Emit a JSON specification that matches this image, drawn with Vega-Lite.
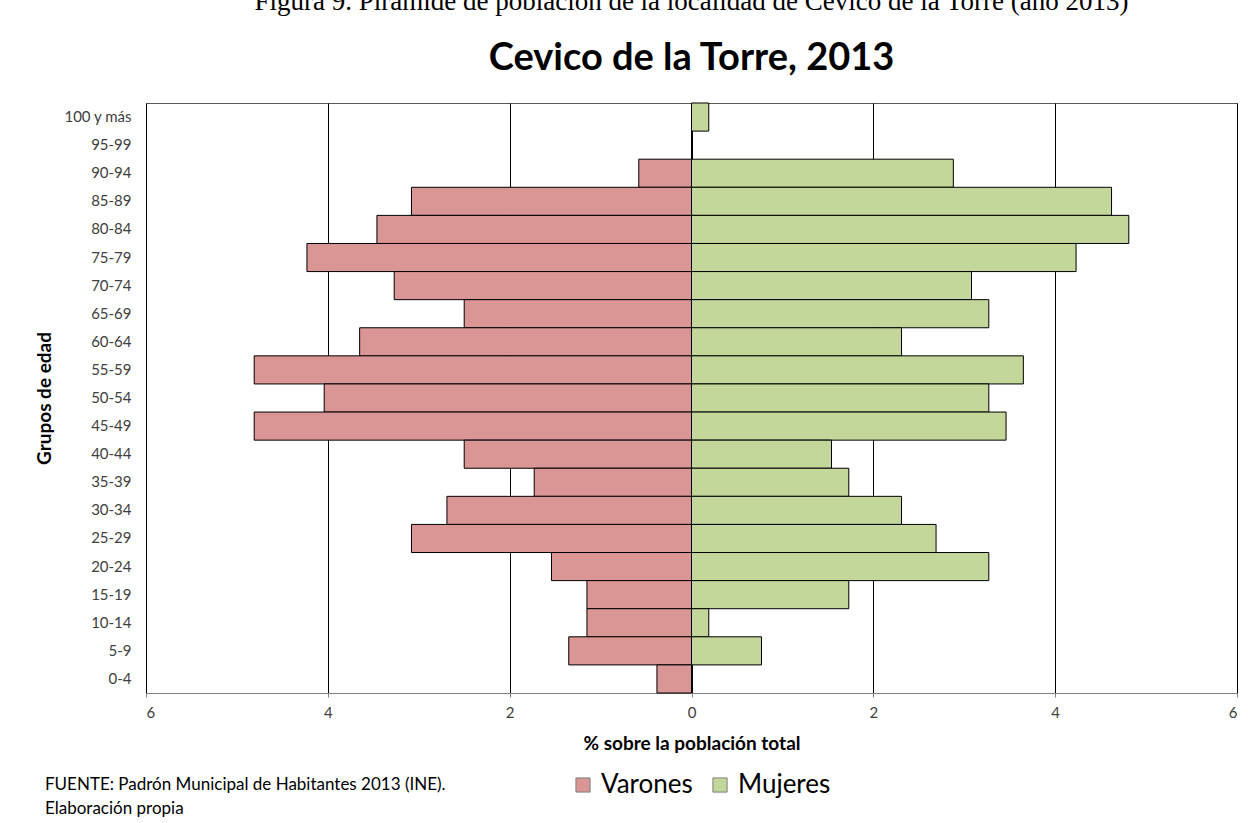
{
  "$schema": "https://vega.github.io/schema/vega-lite/v6.json",
  "autosize": "none",
  "width": 1091,
  "height": 590,
  "padding": {"left": 146, "top": 103, "right": 11, "bottom": 130},
  "background": "white",
  "title": {
    "text": "Figura 9. Pirámide de población de la localidad de Cevico de la Torre (año 2013)",
    "subtitle": "Cevico de la Torre, 2013",
    "anchor": "middle",
    "font": "Liberation Serif",
    "fontSize": 27,
    "fontWeight": "normal",
    "color": "black",
    "subtitleFont": "Lato",
    "subtitleFontSize": 38,
    "subtitleFontWeight": "bold",
    "subtitleColor": "black",
    "subtitlePadding": 24,
    "offset": 24
  },
  "data": {
    "values": [
      {"edad": "100 y más", "sexo": "Varones", "valor": 0},
      {"edad": "100 y más", "sexo": "Mujeres", "valor": 0.19},
      {"edad": "95-99", "sexo": "Varones", "valor": 0},
      {"edad": "95-99", "sexo": "Mujeres", "valor": 0},
      {"edad": "90-94", "sexo": "Varones", "valor": -0.58},
      {"edad": "90-94", "sexo": "Mujeres", "valor": 2.88},
      {"edad": "85-89", "sexo": "Varones", "valor": -3.08},
      {"edad": "85-89", "sexo": "Mujeres", "valor": 4.62},
      {"edad": "80-84", "sexo": "Varones", "valor": -3.46},
      {"edad": "80-84", "sexo": "Mujeres", "valor": 4.81},
      {"edad": "75-79", "sexo": "Varones", "valor": -4.23},
      {"edad": "75-79", "sexo": "Mujeres", "valor": 4.23},
      {"edad": "70-74", "sexo": "Varones", "valor": -3.27},
      {"edad": "70-74", "sexo": "Mujeres", "valor": 3.08},
      {"edad": "65-69", "sexo": "Varones", "valor": -2.5},
      {"edad": "65-69", "sexo": "Mujeres", "valor": 3.27},
      {"edad": "60-64", "sexo": "Varones", "valor": -3.65},
      {"edad": "60-64", "sexo": "Mujeres", "valor": 2.31},
      {"edad": "55-59", "sexo": "Varones", "valor": -4.81},
      {"edad": "55-59", "sexo": "Mujeres", "valor": 3.65},
      {"edad": "50-54", "sexo": "Varones", "valor": -4.04},
      {"edad": "50-54", "sexo": "Mujeres", "valor": 3.27},
      {"edad": "45-49", "sexo": "Varones", "valor": -4.81},
      {"edad": "45-49", "sexo": "Mujeres", "valor": 3.46},
      {"edad": "40-44", "sexo": "Varones", "valor": -2.5},
      {"edad": "40-44", "sexo": "Mujeres", "valor": 1.54},
      {"edad": "35-39", "sexo": "Varones", "valor": -1.73},
      {"edad": "35-39", "sexo": "Mujeres", "valor": 1.73},
      {"edad": "30-34", "sexo": "Varones", "valor": -2.69},
      {"edad": "30-34", "sexo": "Mujeres", "valor": 2.31},
      {"edad": "25-29", "sexo": "Varones", "valor": -3.08},
      {"edad": "25-29", "sexo": "Mujeres", "valor": 2.69},
      {"edad": "20-24", "sexo": "Varones", "valor": -1.54},
      {"edad": "20-24", "sexo": "Mujeres", "valor": 3.27},
      {"edad": "15-19", "sexo": "Varones", "valor": -1.15},
      {"edad": "15-19", "sexo": "Mujeres", "valor": 1.73},
      {"edad": "10-14", "sexo": "Varones", "valor": -1.15},
      {"edad": "10-14", "sexo": "Mujeres", "valor": 0.19},
      {"edad": "5-9", "sexo": "Varones", "valor": -1.35},
      {"edad": "5-9", "sexo": "Mujeres", "valor": 0.77},
      {"edad": "0-4", "sexo": "Varones", "valor": -0.38},
      {"edad": "0-4", "sexo": "Mujeres", "valor": 0}
    ]
  },
  "mark": {"type": "bar", "stroke": "black", "strokeWidth": 1, "opacity": 1},
  "encoding": {
    "y": {
      "field": "edad",
      "type": "nominal",
      "sort": ["100 y más", "95-99", "90-94", "85-89", "80-84", "75-79", "70-74", "65-69", "60-64", "55-59", "50-54", "45-49", "40-44", "35-39", "30-34", "25-29", "20-24", "15-19", "10-14", "5-9", "0-4"],
      "scale": {"paddingInner": 0, "paddingOuter": 0},
      "axis": {
        "title": "Grupos de edad",
        "titleFont": "Lato",
        "titleFontSize": 19,
        "titleFontWeight": "bold",
        "titleColor": "black",
        "titlePadding": 9,
        "labelFont": "Lato",
        "labelFontSize": 15,
        "labelColor": "#404040",
        "labelPadding": 15,
        "ticks": false,
        "domain": false,
        "grid": false
      }
    },
    "x": {
      "field": "valor",
      "type": "quantitative",
      "stack": null,
      "scale": {"domain": [-6, 6], "nice": false},
      "axis": {
        "values": [-6, -4, -2, 0, 2, 4, 6],
        "labelExpr": "abs(datum.value)",
        "title": "% sobre la población total",
        "titleFont": "Lato",
        "titleFontSize": 19,
        "titleFontWeight": "bold",
        "titleColor": "black",
        "titlePadding": 14,
        "labelFont": "Lato",
        "labelFontSize": 15,
        "labelColor": "#404040",
        "labelPadding": 8,
        "tickSize": 4,
        "tickColor": "#808080",
        "domainColor": "#808080",
        "grid": true,
        "gridColor": "black",
        "gridWidth": 1,
        "gridOpacity": 1
      }
    },
    "color": {
      "field": "sexo",
      "type": "nominal",
      "scale": {"domain": ["Varones", "Mujeres"], "range": ["#DA9694", "#C4D79B"]},
      "legend": {
        "orient": "none",
        "legendX": -101,
        "legendY": 669,
        "direction": "horizontal",
        "title": ["FUENTE: Padrón Municipal de Habitantes  2013 (INE).", "Elaboración propia"],
        "titleOrient": "left",
        "titleFont": "Lato",
        "titleFontSize": 17,
        "titleFontWeight": "normal",
        "titleColor": "black",
        "titleLineHeight": 24,
        "titleBaseline": "line-top",
        "titleAlign": "left",
        "titleLimit": 700,
        "titlePadding": 120,
        "symbolType": "square",
        "symbolSize": 200,
        "symbolStrokeColor": "#7f7f7f",
        "symbolStrokeWidth": 1,
        "symbolOpacity": 1,
        "labelFont": "Lato",
        "labelFontSize": 26,
        "labelColor": "black",
        "labelLimit": 300,
        "columnPadding": 14,
        "labelOffset": 5
      }
    }
  },
  "config": {
    "view": {"stroke": "#595959", "strokeWidth": 1}
  }
}
